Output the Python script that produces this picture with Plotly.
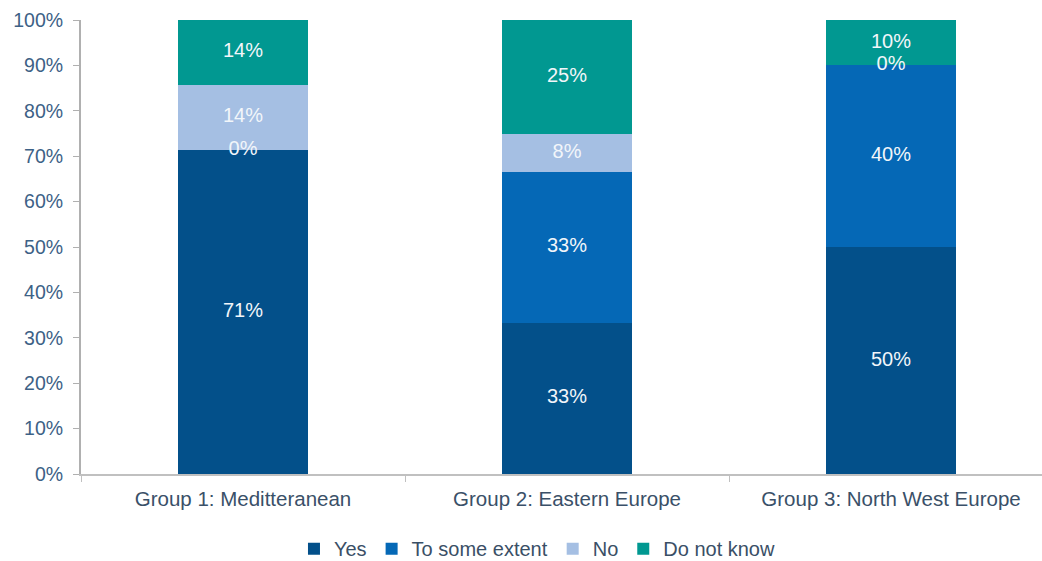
import plotly.graph_objects as go

categories = ["Group 1: Meditteranean", "Group 2: Eastern Europe", "Group 3: North West Europe"]
series_names = ["Yes", "To some extent", "No", "Do not know"]
yes = [71.4, 33.3, 50.0]
some_extent = [0.0, 33.3, 40.0]
no = [14.3, 8.3, 0.0]
dont_know = [14.3, 25.0, 10.0]
colors = ["#03508a", "#0568b6", "#a5bfe3", "#019891"]

values = [yes, some_extent, no, dont_know]

fig = go.Figure()
for name, vals, col in zip(series_names, values, colors):
    fig.add_trace(go.Bar(
        x=categories, y=[v / 100 for v in vals], name=name,
        marker=dict(color=col, line=dict(width=0)), width=0.40,
    ))

# data labels at segment centres
lx, ly, lt = [], [], []
for i, cat in enumerate(categories):
    base = 0.0
    for vals in values:
        v = vals[i] / 100
        lx.append(cat)
        ly.append(base + v / 2)
        lt.append(f"{round(vals[i])}%")
        base += v
fig.add_trace(go.Scatter(
    x=lx, y=ly, text=lt, mode="text", showlegend=False, hoverinfo="skip",
    textfont=dict(color="#f2f6fa", size=20, family="Liberation Sans, Arial, sans-serif"),
))

fig.update_layout(
    barmode="stack",
    width=1042, height=561,
    margin=dict(l=81, r=0, t=20, b=87, autoexpand=False),
    plot_bgcolor="white", paper_bgcolor="white",
    font=dict(family="Liberation Sans, Arial, sans-serif"),
    legend=dict(orientation="h", x=0.475, xanchor="center", yref="container",
                y=0.022, yanchor="middle",
                font=dict(size=20, color="#3a4f66"), traceorder="normal",
                itemwidth=30, tracegroupgap=0),
    xaxis=dict(range=[-0.5, 2.466], showline=True, linecolor="#c0c0c0", linewidth=2,
               ticks="outside", tickson="boundaries", ticklen=6, tickcolor="#c0c0c0",
               tickfont=dict(size=20.5, color="#3a5068"), showgrid=False,
               ticklabelstandoff=5, automargin=False),
    yaxis=dict(range=[0, 1.0], tickformat=".0%", dtick=0.1, showline=True,
               linecolor="#b0b0b0", linewidth=2, ticks="outside", ticklen=6,
               tickcolor="#b0b0b0", tickfont=dict(size=19.5, color="#3d6186"),
               showgrid=False, zeroline=False, ticklabelstandoff=6, automargin=False),
)

fig.write_html("out.html")
